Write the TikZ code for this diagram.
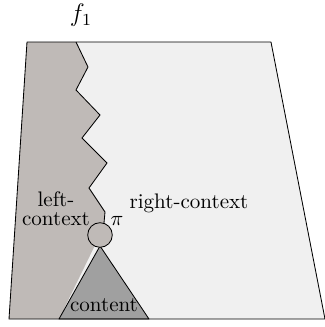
\documentclass[tikz,border=0pt]{standalone}
\usepackage{amsmath,amssymb}
\usepackage{tikz}
\usetikzlibrary{positioning}
\definecolor{leftgray}{HTML}{BFBAB7}
\definecolor{rightgray}{HTML}{F0F0F0}
\definecolor{contentgray}{HTML}{A0A0A0}

\begin{document}
\begin{tikzpicture}[x=0.475pt,y=-0.475pt,
  region/.style={draw=black,thin,line join=round},
  lbl/.style={inner sep=1pt,align=center}]
\useasboundingbox (0,0) rectangle (325,327);
% whole frame: right-context
\fill[rightgray] (27,42)--(271,42)--(325,319)--(9,319)--cycle;
% left-context with zigzag border
\fill[leftgray] (27,42)--(76,42)--(88,67)--(76,90)--(100,115)--(82,138)
  --(107,163)--(89,188)--(105,212)--(104,223)--(100,235)--(59,319)--(9,319)--cycle;
\draw[thin] (76,42)--(88,67)--(76,90)--(100,115)--(82,138)
  --(107,163)--(89,188)--(105,212)--(104,223);
% content below pi
\draw[region,fill=contentgray] (100,246)--(149,319)--(59,319)--cycle;
\node[circle,draw,thin,fill=leftgray,minimum size=11.7pt,inner sep=0pt] (pi) at (100,235) {};
% frame
\draw[region] (27,42)--(271,42)--(325,319)--(9,319)--cycle;
% labels
\node[lbl,font=\large] (f1) at (81,15) {$f_1$};
\node[lbl] (pilbl) at (117,221) {$\pi$};
\node[lbl] (leftctx) at (56,209) {left-\\[-3pt]context};
\node[lbl] (rightctx) at (189,203) {right-context};
\node[lbl] (content) at (104,305) {content};
\end{tikzpicture}
\end{document}
